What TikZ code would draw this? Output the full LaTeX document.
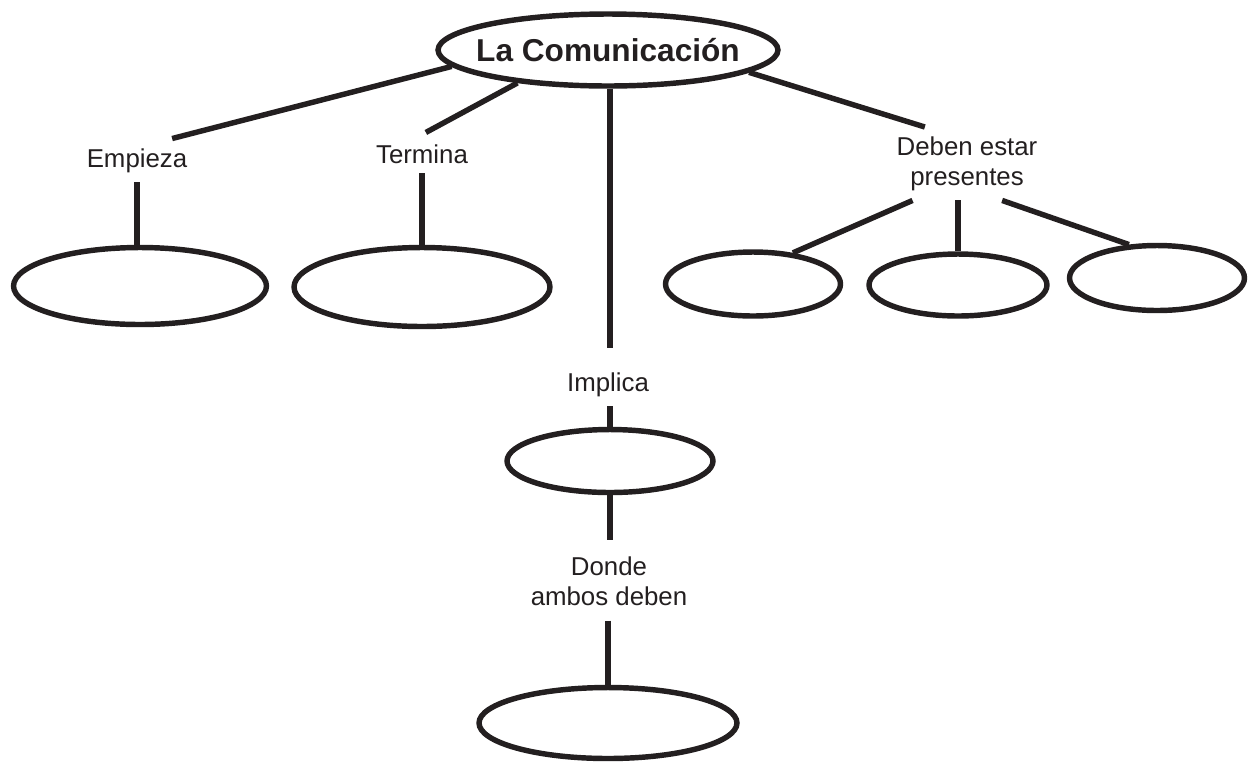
\documentclass[tikz,border=0pt]{standalone}
\usepackage{fontspec}
\setmainfont{Liberation Sans}
\usetikzlibrary{shapes.geometric}
\definecolor{ink}{HTML}{231F20}
\begin{document}
\begin{tikzpicture}[x=0.02cm,y=-0.02cm,line width=3.1pt,color=ink,
	oval/.style={ellipse,draw,inner sep=0pt},
	lbl/.style={inner sep=4pt,align=center,font=\fontsize{14.7}{17}\selectfont}]
	\useasboundingbox (0,0) rectangle (1257,762);
	\node [oval,minimum width=6.8cm,minimum height=1.44cm,label={[font=\fontsize{18}{21}\selectfont\bfseries]center:La Comunicación}] at (608,50) (com) {};
	\node [lbl,anchor=base] at (137,167) (empieza) {Empieza};
	\node [lbl,anchor=base] at (422,163) (termina) {Termina};
	\node [lbl,anchor=north] at (967,127) (deben) {Deben estar\\presentes};
	\node [lbl,anchor=base] at (608,391) (implica) {Implica};
	\node [lbl,anchor=north] at (609,547) (donde) {Donde\\ambos deben};
	\node [oval,minimum width=5.06cm,minimum height=1.54cm] at (140,286) (e1) {};
	\node [oval,minimum width=5.12cm,minimum height=1.58cm] at (422,287) (e2) {};
	\foreach \n/\x/\y/\w/\h in {r1/753/284/3.5/1.28, r2/958/285/3.56/1.24, r3/1157/278/3.5/1.3}
		\node [oval,minimum width=\w cm,minimum height=\h cm] at (\x,\y) (\n) {};
	\node [oval,minimum width=4.12cm,minimum height=1.26cm] at (610,461) (imp) {};
	\node [oval,minimum width=5.16cm,minimum height=1.42cm] at (608,723) (bot) {};
	% top branches
	\draw (com.186) -- ([xshift=20pt]empieza.north);
	\draw [shorten >=2.5pt] (com.200) -- (termina.north);
	\draw (com.351) -- ([xshift=-24pt]deben.north);
	\draw [shorten >=8.5pt] (imp.north |- com.south) -- (imp.north |- implica.north);
	% lower branches
	\draw (empieza.south) -- (empieza.south |- e1.north);
	\draw (termina.south) -- (termina.south |- e2.north);
	\draw ([xshift=-31pt]deben.south) -- (r1.38);
	\draw (r2.north |- deben.south) -- (r2.north);
	\draw ([xshift=20pt]deben.south) -- (r3.130);
	\draw (imp.north |- implica.south) -- (imp.north);
	\draw [shorten >=4pt] (imp.south) -- (imp.south |- donde.north);
	\draw [shorten <=3pt] (bot.north |- donde.south) -- (bot.north);
\end{tikzpicture}
\end{document}
